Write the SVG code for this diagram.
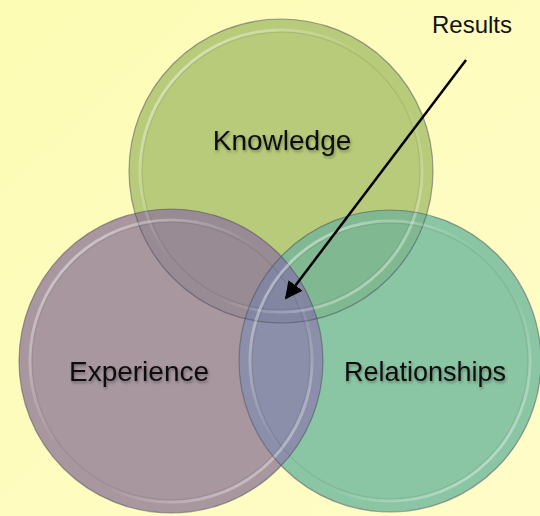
<svg xmlns="http://www.w3.org/2000/svg" width="540" height="516" viewBox="0 0 540 516">
<defs>
<linearGradient id="bg" x1="0" y1="0" x2="1" y2="1">
<stop offset="0" stop-color="#fdfcb4"/>
<stop offset="1" stop-color="#fffcc8"/>
</linearGradient>
<linearGradient id="hl" x1="0" y1="0" x2="1" y2="1">
<stop offset="0" stop-color="#ffffff" stop-opacity="0.6"/>
<stop offset="0.45" stop-color="#ffffff" stop-opacity="0"/>
<stop offset="0.6" stop-color="#ffffff" stop-opacity="0"/>
<stop offset="1" stop-color="#ffffff" stop-opacity="0.55"/>
</linearGradient>
<clipPath id="cK"><circle cx="281" cy="171" r="152"/></clipPath>
<clipPath id="cE"><circle cx="171" cy="361" r="152"/></clipPath>
<clipPath id="cR"><circle cx="390" cy="361" r="151"/></clipPath>
<filter id="ts" x="-10%" y="-30%" width="120%" height="160%">
<feDropShadow dx="1" dy="2" stdDeviation="1.5" flood-color="#000" flood-opacity="0.35"/>
</filter>
<marker id="ah" viewBox="0 0 10 10" refX="9" refY="5" markerWidth="7" markerHeight="7" orient="auto" markerUnits="strokeWidth">
<path d="M0,0 L10,5 L0,10 z" fill="#000"/>
</marker>
</defs>
<style>
.lbl{font-family:"Liberation Sans",Arial,sans-serif;font-size:28px;fill:#111;text-anchor:middle;filter:url(#ts)}
.edge{fill:none;stroke:#4a4a60;stroke-opacity:0.5;stroke-width:1.2}
.hi{fill:none;stroke:url(#hl);stroke-width:3}
.dk{fill:none;stroke:#000;stroke-opacity:0.07;stroke-width:1.5}
</style>
<rect width="540" height="516" fill="url(#bg)"/>
<g id="knowledge">
<circle cx="281" cy="171" r="152" fill="#b8cb7a"/>
</g>
<g id="experience">
<circle cx="171" cy="361" r="152" fill="#a9979f"/>
</g>
<g id="relationships">
<circle cx="390" cy="361" r="151" fill="#8bc6a4"/>
</g>
<g id="overlaps">
<g clip-path="url(#cK)"><circle cx="171" cy="361" r="152" fill="#988b93"/></g>
<g clip-path="url(#cK)"><circle cx="390" cy="361" r="151" fill="#80b991"/></g>
<g clip-path="url(#cE)"><circle cx="390" cy="361" r="151" fill="#8b8fa9"/></g>
<g clip-path="url(#cE)"><g clip-path="url(#cK)"><circle cx="390" cy="361" r="151" fill="#8286a1"/></g></g>
</g>
<g id="rims">
<circle cx="281" cy="171" r="152" class="edge"/>
<circle cx="281" cy="171" r="141" class="hi"/>
<circle cx="281" cy="171" r="139" class="dk"/>
<circle cx="171" cy="361" r="152" class="edge"/>
<circle cx="171" cy="361" r="141" class="hi"/>
<circle cx="171" cy="361" r="139" class="dk"/>
<circle cx="390" cy="361" r="151" class="edge"/>
<circle cx="390" cy="361" r="140" class="hi"/>
<circle cx="390" cy="361" r="138" class="dk"/>
</g>
<g id="labels">
<text class="lbl" x="282" y="150">Knowledge</text>
<text class="lbl" x="139" y="381">Experience</text>
<text class="lbl" x="425" y="381" textLength="162" lengthAdjust="spacingAndGlyphs">Relationships</text>
</g>
<g id="results">
<text x="472" y="33" style="font-family:'Liberation Sans',Arial,sans-serif;font-size:24px;fill:#111;text-anchor:middle">Results</text>
</g>
<g id="connectors">
<line x1="466" y1="60" x2="286" y2="298" stroke="#000" stroke-width="2.5" marker-end="url(#ah)"/>
</g>
</svg>
